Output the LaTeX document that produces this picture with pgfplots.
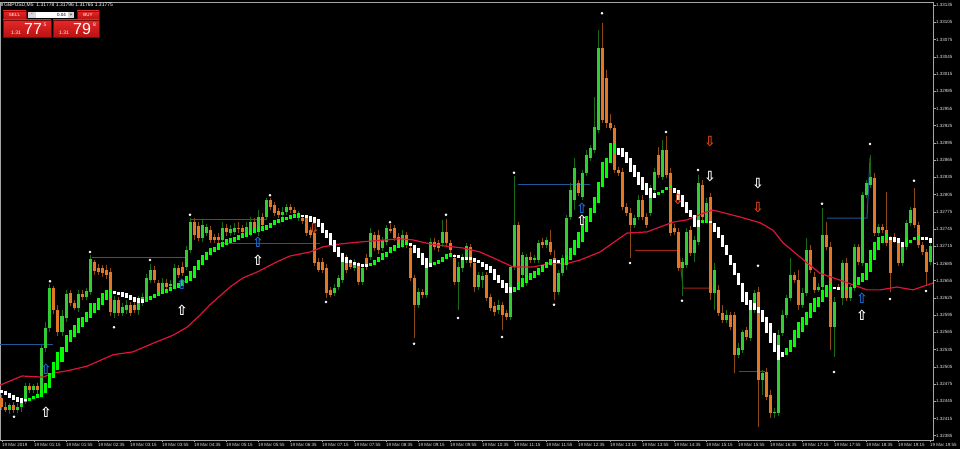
\documentclass[border=0pt]{standalone}
\usepackage{pgfplots}
\usepackage{pgfplotstable}
\pgfplotsset{compat=1.18}
\usepackage{fontspec}
\setmainfont{Liberation Sans}
\newfontfamily\dv{DejaVu Sans}
\definecolor{cgreen}{RGB}{50,205,50}
\definecolor{wickg}{RGB}{25,105,25}
\definecolor{corange}{RGB}{226,120,38}
\definecolor{wicko}{RGB}{140,72,22}
\definecolor{hagreen}{RGB}{0,255,0}
\definecolor{mared}{RGB}{220,20,60}
\definecolor{lblue}{RGB}{31,90,150}
\definecolor{ablue}{RGB}{30,110,210}
\definecolor{ared}{RGB}{220,70,20}
\definecolor{lred}{RGB}{160,40,24}
\definecolor{framec}{RGB}{165,165,165}
\definecolor{redA}{RGB}{228,40,40}
\definecolor{redB}{RGB}{185,18,18}
\definecolor{redC}{RGB}{120,10,10}
\definecolor{lgray}{RGB}{215,215,215}

\pgfplotstableread{
i o h l c
0 132451 132456 132430 132435
1 132435 132444 132426 132430
2 132430 132442 132423 132439
3 132439 132444 132425 132430
4 132430 132442 132425 132435
5 132435 132447 132426 132444
6 132444 132477 132440 132472
7 132472 132477 132459 132465
8 132465 132475 132459 132472
9 132472 132477 132458 132465
10 132465 132545 132458 132538
11 132538 132583 132531 132573
12 132573 132649 132566 132642
13 132642 132646 132597 132604
14 132604 132613 132559 132566
15 132566 132604 132559 132594
16 132590 132639 132583 132632
17 132634 132639 132611 132616
18 132616 132621 132604 132607
19 132607 132639 132600 132632
20 132632 132639 132621 132627
21 132627 132642 132621 132637
22 132635 132700 132630 132693
23 132688 132691 132665 132672
24 132677 132684 132665 132670
25 132677 132682 132662 132668
26 132674 132682 132658 132665
27 132670 132677 132594 132600
28 132599 132628 132590 132621
29 132621 132627 132594 132599
30 132599 132616 132594 132609
31 132604 132621 132597 132613
32 132613 132618 132594 132599
33 132613 132621 132599 132604
34 132604 132628 132595 132621
35 132618 132634 132611 132627
36 132627 132667 132621 132660
37 132656 132684 132651 132674
38 132674 132681 132651 132656
39 132651 132656 132628 132634
40 132639 132660 132632 132651
41 132651 132658 132639 132644
42 132646 132656 132641 132649
43 132648 132684 132642 132677
44 132677 132682 132660 132665
45 132679 132688 132663 132668
46 132679 132715 132674 132708
47 132708 132764 132703 132757
48 132757 132764 132726 132735
49 132750 132757 132724 132729
50 132729 132761 132722 132752
51 132738 132754 132733 132749
52 132743 132750 132721 132726
53 132731 132736 132721 132726
54 132731 132738 132719 132726
55 132726 132757 132721 132747
56 132747 132754 132733 132740
57 132738 132752 132733 132745
58 132740 132756 132735 132747
59 132747 132757 132738 132746
60 132747 132752 132733 132740
61 132740 132757 132735 132749
62 132740 132766 132733 132757
63 132757 132764 132740 132747
64 132743 132778 132733 132766
65 132766 132773 132747 132752
66 132766 132799 132761 132796
67 132796 132799 132778 132783
68 132787 132792 132768 132773
69 132776 132782 132764 132770
70 132770 132783 132764 132775
71 132775 132789 132770 132783
72 132783 132789 132773 132778
73 132778 132783 132768 132773
74 132764 132776 132759 132773
75 132764 132770 132754 132759
76 132764 132770 132733 132738
77 132743 132749 132729 132735
78 132738 132743 132681 132686
79 132688 132695 132670 132674
80 132688 132695 132668 132674
81 132677 132684 132625 132634
82 132639 132644 132627 132630
83 132634 132649 132628 132642
84 132644 132665 132639 132660
85 132656 132700 132651 132695
86 132695 132700 132668 132674
87 132686 132693 132675 132679
88 132677 132693 132672 132688
89 132682 132688 132648 132653
90 132653 132682 132648 132677
91 132695 132702 132674 132679
92 132696 132747 132691 132738
93 132735 132740 132707 132712
94 132735 132743 132702 132708
95 132712 132731 132707 132726
96 132722 132752 132717 132747
97 132745 132754 132738 132742
98 132747 132752 132724 132729
99 132731 132738 132715 132721
100 132717 132743 132712 132735
101 132735 132740 132712 132717
102 132712 132717 132654 132660
103 132660 132665 132555 132613
104 132613 132642 132607 132635
105 132635 132641 132625 132630
106 132630 132688 132625 132679
107 132686 132729 132681 132722
108 132722 132729 132708 132714
109 132721 132726 132705 132712
110 132721 132761 132714 132740
111 132740 132762 132715 132721
112 132721 132726 132702 132708
113 132695 132702 132648 132653
114 132653 132688 132604 132679
115 132677 132702 132670 132696
116 132691 132721 132686 132715
117 132714 132719 132679 132686
118 132686 132691 132635 132644
119 132644 132670 132639 132665
120 132656 132670 132642 132663
121 132665 132670 132620 132625
122 132627 132632 132602 132607
123 132611 132618 132594 132600
124 132604 132621 132597 132613
125 132613 132618 132569 132595
126 132599 132604 132587 132592
127 132592 132682 132587 132679
128 132679 132837 132674 132752
129 132752 132757 132648 132653
130 132665 132705 132656 132700
131 132651 132702 132646 132696
132 132696 132705 132686 132691
133 132691 132700 132686 132695
134 132691 132726 132686 132721
135 132722 132729 132712 132717
136 132717 132731 132712 132726
137 132722 132743 132700 132705
138 132695 132708 132621 132635
139 132635 132674 132630 132668
140 132668 132700 132663 132695
141 132688 132770 132674 132764
142 132766 132825 132761 132813
143 132796 132869 132778 132851
144 132825 132830 132803 132808
145 132801 132848 132796 132843
146 132843 132883 132837 132874
147 132869 132891 132864 132886
148 132883 132975 132877 132923
149 132918 133092 132912 133060
150 133060 133104 132930 132935
151 133008 133022 132921 132930
152 132930 132945 132918 132921
153 132921 132926 132843 132848
154 132848 132853 132837 132843
155 132844 132851 132778 132783
156 132783 132790 132768 132773
157 132773 132782 132695 132752
158 132752 132770 132747 132764
159 132766 132804 132761 132796
160 132796 132804 132761 132766
161 132766 132773 132747 132752
162 132773 132822 132768 132813
163 132813 132851 132808 132844
164 132874 132888 132834 132839
165 132836 132900 132830 132883
166 132883 132907 132834 132839
167 132843 132851 132733 132738
168 132747 132754 132735 132740
169 132740 132747 132672 132677
170 132677 132695 132628 132688
171 132682 132747 132677 132740
172 132743 132750 132698 132703
173 132703 132733 132688 132726
174 132722 132839 132717 132825
175 132822 132830 132761 132766
176 132761 132799 132756 132790
177 132801 132808 132621 132634
178 132634 132686 132604 132674
179 132639 132648 132594 132599
180 132599 132613 132581 132587
181 132587 132604 132581 132595
182 132595 132600 132569 132574
183 132595 132600 132494 132526
184 132526 132546 132520 132538
185 132534 132569 132529 132566
186 132569 132574 132552 132557
187 132555 132613 132550 132604
188 132604 132639 132599 132634
189 132635 132644 132400 132482
190 132482 132500 132456 132494
191 132496 132503 132447 132452
192 132456 132465 132416 132425
193 132426 132433 132416 132427
194 132425 132569 132419 132560
195 132564 132604 132559 132595
196 132595 132630 132590 132625
197 132625 132695 132620 132665
198 132665 132670 132651 132656
199 132656 132674 132604 132613
200 132613 132642 132607 132634
201 132634 132729 132628 132708
202 132708 132717 132668 132674
203 132662 132670 132634 132639
204 132639 132651 132635 132644
205 132644 132782 132639 132735
206 132735 132757 132708 132714
207 132714 132722 132534 132574
208 132574 132627 132522 132618
209 132644 132649 132639 132643
210 132625 132691 132613 132686
211 132686 132695 132620 132625
212 132625 132648 132620 132642
213 132642 132719 132637 132714
214 132714 132719 132682 132688
215 132686 132810 132681 132804
216 132804 132830 132799 132825
217 132822 132874 132816 132836
218 132834 132843 132733 132738
219 132738 132754 132733 132749
220 132749 132754 132738 132743
221 132743 132810 132715 132721
222 132726 132733 132635 132668
223 132731 132738 132721 132726
224 132722 132729 132681 132686
225 132686 132719 132681 132714
226 132714 132761 132708 132756
227 132756 132783 132750 132778
228 132782 132816 132747 132752
229 132752 132757 132712 132717
230 132717 132722 132700 132705
231 132705 132710 132648 132670
232 132688 132721 132682 132715
}\candles

\pgfplotstableread{
i lo hi g
0 132459 132465 0
1 132456 132463 0
2 132451 132459 0
3 132447 132456 0
4 132444 132452 0
5 132442 132451 0
6 132445 132449 0
7 132445 132451 1
8 132449 132454 1
9 132451 132458 1
10 132452 132465 1
11 132459 132477 1
12 132468 132494 1
13 132486 132513 1
14 132500 132531 1
15 132513 132539 1
16 132531 132560 1
17 132548 132569 1
18 132557 132578 1
19 132564 132590 1
20 132574 132592 1
21 132583 132601 1
22 132590 132616 1
23 132599 132616 1
24 132604 132625 1
25 132613 132634 1
26 132621 132639 1
27 132625 132639 1
28 132632 132637 0
29 132630 132635 0
30 132627 132635 0
31 132625 132634 0
32 132621 132630 0
33 132618 132627 0
34 132616 132625 0
35 132616 132623 0
36 132618 132627 1
37 132621 132628 1
38 132625 132632 1
39 132628 132635 1
40 132632 132639 1
41 132634 132641 1
42 132637 132644 1
43 132641 132648 1
44 132642 132651 1
45 132646 132656 1
46 132651 132663 1
47 132654 132672 1
48 132660 132681 1
49 132674 132691 1
50 132682 132700 1
51 132691 132705 1
52 132700 132712 1
53 132705 132714 1
54 132708 132721 1
55 132714 132722 1
56 132717 132728 1
57 132721 132729 1
58 132722 132731 1
59 132726 132735 1
60 132729 132738 1
61 132731 132740 1
62 132735 132743 1
63 132738 132747 1
64 132740 132749 1
65 132742 132750 1
66 132743 132752 1
67 132747 132756 1
68 132752 132761 1
69 132756 132762 1
70 132757 132766 1
71 132761 132766 1
72 132762 132770 1
73 132764 132771 1
74 132766 132773 1
75 132766 132770 0
76 132764 132770 0
77 132757 132768 0
78 132756 132766 0
79 132749 132762 0
80 132738 132756 0
81 132729 132743 0
82 132717 132738 0
83 132705 132726 0
84 132696 132714 0
85 132688 132703 0
86 132686 132696 0
87 132686 132691 0
88 132682 132688 0
89 132681 132686 0
90 132679 132684 0
91 132679 132684 0
92 132681 132686 1
93 132682 132691 1
94 132688 132696 1
95 132691 132703 1
96 132696 132705 1
97 132703 132714 1
98 132707 132717 1
99 132712 132721 1
100 132714 132721 1
101 132717 132722 1
102 132715 132721 0
103 132703 132717 0
104 132695 132712 0
105 132682 132703 0
106 132677 132695 0
107 132679 132686 0
108 132682 132688 1
109 132684 132691 1
110 132688 132696 1
111 132693 132702 1
112 132696 132703 1
113 132696 132700 0
114 132695 132700 0
115 132691 132696 0
116 132691 132696 0
117 132691 132696 0
118 132688 132695 0
119 132686 132691 0
120 132679 132688 0
121 132674 132684 0
122 132668 132681 0
123 132656 132675 0
124 132651 132665 0
125 132642 132656 0
126 132634 132651 0
127 132634 132644 0
128 132635 132644 1
129 132639 132653 1
130 132644 132660 1
131 132651 132665 1
132 132656 132668 1
133 132660 132672 1
134 132665 132677 1
135 132670 132682 1
136 132677 132688 1
137 132682 132693 1
138 132686 132691 0
139 132686 132691 0
140 132682 132695 1
141 132682 132700 1
142 132691 132712 1
143 132700 132726 1
144 132712 132740 1
145 132722 132754 1
146 132740 132768 1
147 132757 132782 1
148 132773 132801 1
149 132790 132827 1
150 132818 132862 1
151 132834 132869 1
152 132860 132895 1
153 132877 132895 1
154 132874 132886 0
155 132870 132886 0
156 132860 132879 0
157 132844 132869 0
158 132836 132857 0
159 132822 132844 0
160 132813 132836 0
161 132804 132825 0
162 132799 132816 0
163 132799 132808 0
164 132804 132810 1
165 132808 132813 1
166 132813 132818 1
167 132816 132822 1
168 132808 132816 0
169 132796 132813 0
170 132783 132804 0
171 132773 132792 0
172 132766 132778 0
173 132749 132770 0
174 132749 132761 0
175 132756 132761 1
176 132756 132761 1
177 132756 132759 0
178 132740 132756 0
179 132729 132749 0
180 132714 132735 0
181 132700 132717 0
182 132682 132700 0
183 132665 132686 0
184 132648 132668 0
185 132618 132651 0
186 132613 132635 0
187 132604 132621 0
188 132604 132616 0
189 132599 132609 0
190 132583 132604 0
191 132564 132592 0
192 132546 132581 0
193 132531 132564 0
194 132517 132543 0
195 132522 132531 0
196 132526 132538 1
197 132531 132552 1
198 132539 132569 1
199 132555 132583 1
200 132566 132592 1
201 132578 132601 1
202 132590 132616 1
203 132601 132625 1
204 132609 132627 1
205 132618 132639 1
206 132627 132648 1
207 132635 132651 1
208 132641 132644 0
209 132639 132644 0
210 132639 132644 1
211 132639 132644 1
212 132639 132644 1
213 132642 132653 1
214 132648 132662 1
215 132653 132668 1
216 132656 132686 1
217 132670 132708 1
218 132691 132722 1
219 132708 132731 1
220 132721 132733 1
221 132726 132736 1
222 132726 132731 0
223 132722 132731 0
224 132721 132729 0
225 132714 132722 0
226 132717 132729 1
227 132721 132726 1
228 132726 132731 1
229 132726 132735 1
230 132726 132731 0
231 132726 132731 0
232 132721 132729 0
}\hasq

\begin{document}
\begin{tikzpicture}
\useasboundingbox (0pt,-9pt) rectangle (960pt,440pt);
\fill[black] (0pt,-9pt) rectangle (960pt,440pt);
\begin{axis}[
  at={(0pt,0pt)}, anchor=south west,
  scale only axis, width=933pt, height=438pt,
  xmin=-0.5, xmax=232.75, ymin=132377.5, ymax=133140.5,
  axis line style={framec, line width=0.8pt},
  tick style={framec, line width=0.6pt},
  tick align=outside, major tick length=2.5pt,
  xtick pos=bottom, ytick pos=right, yticklabel pos=right,
  xtick={0,8,...,232},
  xticklabels={19 Mar 2019, 19 Mar 01:15, 19 Mar 01:55, 19 Mar 02:35, 19 Mar 03:15, 19 Mar 03:55, 19 Mar 04:35, 19 Mar 05:15, 19 Mar 05:55, 19 Mar 06:35, 19 Mar 07:15, 19 Mar 07:55, 19 Mar 08:35, 19 Mar 09:15, 19 Mar 09:55, 19 Mar 10:35, 19 Mar 11:15, 19 Mar 11:55, 19 Mar 12:35, 19 Mar 13:15, 19 Mar 13:55, 19 Mar 14:35, 19 Mar 15:15, 19 Mar 15:55, 19 Mar 16:35, 19 Mar 17:15, 19 Mar 17:55, 19 Mar 18:35, 19 Mar 19:15, 19 Mar 19:55},
  xticklabel style={anchor=north west, inner sep=0pt, yshift=-0.5pt, font=\fontsize{4.5}{5}\selectfont, text=white!88!black},
  ytick={132385,132415,132445,132475,132505,132535,132565,132595,132625,132655,132685,132715,132745,132775,132805,132835,132865,132895,132925,132955,132985,133015,133045,133075,133105,133135},
  yticklabels={1.32385,1.32415,1.32445,1.32475,1.32505,1.32535,1.32565,1.32595,1.32625,1.32655,1.32685,1.32715,1.32745,1.32775,1.32805,1.32835,1.32865,1.32895,1.32925,1.32955,1.32985,1.33015,1.33045,1.33075,1.33105,1.33135},
  yticklabel style={anchor=west, inner sep=0pt, xshift=0.5pt, font=\fontsize{4.5}{5}\selectfont, text=white!88!black},
]
% support / resistance lines
\addplot[forget plot, lblue, line width=1pt] coordinates {(-0.5,132543) (12.75,132543)};
\addplot[forget plot, lblue, line width=1pt] coordinates {(22.5,132695) (45.75,132695)};
\addplot[forget plot, lblue, line width=1pt] coordinates {(47,132762) (66.25,132762)};
\addplot[forget plot, lblue, line width=1pt] coordinates {(129,132823) (147,132823)};
\addplot[forget plot, lblue, line width=1pt] coordinates {(206.25,132764) (216.25,132764) (217,132869)};
\addplot[forget plot, lred, line width=1pt] coordinates {(54,132719) (79.5,132719)};
\addplot[forget plot, lred, line width=1pt] coordinates {(158.25,132708) (169.25,132708) (170.25,132642) (177.5,132642)};
\addplot[forget plot, lred, line width=1pt] coordinates {(184.25,132496) (190.75,132496)};
% wicks
\addplot[forget plot, draw=none, mark=none, restrict expr to domain={\thisrow{c}-\thisrow{o}}{0:5000},
  error bars/.cd, y dir=plus, y explicit, error mark=none, error bar style={draw=wickg, line width=1pt}]
  table[x=i, y=l, y error expr=\thisrow{h}-\thisrow{l}] {\candles};
\addplot[forget plot, draw=none, mark=none, restrict expr to domain={\thisrow{o}-\thisrow{c}}{0.5:5000},
  error bars/.cd, y dir=plus, y explicit, error mark=none, error bar style={draw=wicko, line width=1pt}]
  table[x=i, y=l, y error expr=\thisrow{h}-\thisrow{l}] {\candles};
% bodies
\addplot[forget plot, draw=none, mark=none, restrict expr to domain={\thisrow{c}-\thisrow{o}}{0:5000},
  error bars/.cd, y dir=plus, y explicit, error mark=none, error bar style={draw=cgreen, line width=3pt}]
  table[x=i, y=o, y error expr=\thisrow{c}-\thisrow{o}] {\candles};
\addplot[forget plot, draw=none, mark=none, restrict expr to domain={\thisrow{o}-\thisrow{c}}{0.5:5000},
  error bars/.cd, y dir=plus, y explicit, error mark=none, error bar style={draw=corange, line width=3pt}]
  table[x=i, y=c, y error expr=\thisrow{o}-\thisrow{c}] {\candles};
% moving average
\addplot[forget plot, mared, line width=1.2pt] coordinates {
(-0.5,132473) (5,132489) (10.25,132487) (12.75,132494) (16.25,132498) (21.25,132506) (27.75,132526) (32.75,132531) (37.75,132546) (42.75,132560) (46.25,132574) (49.5,132595) (52,132613) (57,132644) (60.25,132660) (63.75,132670) (68.75,132688) (72,132698) (77,132705) (80.25,132714) (84.5,132719) (88.75,132722) (95.75,132726) (99.5,132728) (102.75,132726) (107,132719) (111.25,132715) (115.25,132712) (119.5,132705) (122.75,132695) (127.75,132679) (132.75,132679) (137.75,132686) (140.75,132684) (144.5,132691) (149.5,132705) (156.25,132738) (161.25,132740) (167.75,132757) (171.25,132761) (176.25,132775) (177.75,132778) (184.5,132766) (189.5,132756) (192.75,132743) (195.25,132721) (201.25,132686) (204.5,132668) (209.5,132656) (216.25,132639) (219.5,132639) (223.75,132644) (227.75,132639) (232.75,132651)};
% smoothed squares
\addplot[forget plot, draw=none, mark=none, restrict expr to domain={\thisrow{g}}{0.5:1.5},
  error bars/.cd, y dir=plus, y explicit, error mark=none, error bar style={draw=hagreen, line width=3pt}]
  table[x=i, y=lo, y error expr=\thisrow{hi}-\thisrow{lo}] {\hasq};
\addplot[forget plot, draw=none, mark=none, restrict expr to domain={\thisrow{g}}{-0.5:0.5},
  error bars/.cd, y dir=plus, y explicit, error mark=none, error bar style={draw=white, line width=3pt}]
  table[x=i, y=lo, y error expr=\thisrow{hi}-\thisrow{lo}] {\hasq};
% fractals
\addplot[forget plot, only marks, mark=*, mark size=1.1pt, white] coordinates {
(3,132418) (12,132654) (22,132705) (28,132574) (37,132691) (47,132770) (67,132804) (81,132618) (97,132757) (103,132545) (111,132770) (114,132590) (125,132557) (128,132843) (138,132613) (150,133121) (157,132686) (166,132914) (170,132620) (174,132848) (189,132681) (205,132789) (208,132496) (217,132893) (222,132623) (228,132829) (231,132637)};
% arrows
\addplot[forget plot, draw=none, mark=none, nodes near coords={⇧},
  every node near coord/.append style={anchor=center, inner sep=0pt, text=white, font=\dv\bfseries\fontsize{14}{14}\selectfont}]
  coordinates {(11,132426) (45,132604) (64,132691) (145,132761) (215,132594)};
\addplot[forget plot, draw=none, mark=none, nodes near coords={⇧},
  every node near coord/.append style={anchor=center, inner sep=0pt, text=ablue, font=\dv\bfseries\fontsize{14}{14}\selectfont}]
  coordinates {(11,132500) (45,132648) (64,132722) (145,132782) (215,132625)};
\addplot[forget plot, draw=none, mark=none, nodes near coords={⇩},
  every node near coord/.append style={anchor=center, inner sep=0pt, text=white, font=\dv\bfseries\fontsize{14}{14}\selectfont}]
  coordinates {(177,132836) (189,132825)};
\addplot[forget plot, draw=none, mark=none, nodes near coords={⇩},
  every node near coord/.append style={anchor=center, inner sep=0pt, text=ared, font=\dv\bfseries\fontsize{14}{14}\selectfont}]
  coordinates {(177,132898) (189,132782) (78,132745) (169,132796)};
\end{axis}
% trading panel
\fill[gray] (1pt,433.5pt) rectangle (3pt,436.5pt);
\node[anchor=west, inner sep=0pt, text=white, font=\fontsize{5}{6}\selectfont] at (4pt,435pt) {GBPUSD,M5\ \ 1.31778 1.31796 1.31765 1.31775};
\shade[top color=redA, bottom color=redB, draw=redC, line width=0.4pt] (3pt,429pt) rectangle (26pt,421pt);
\node[text=white, inner sep=0pt, font=\fontsize{4.5}{5}\selectfont] at (14.5pt,425pt) {SELL};
\fill[lgray] (28pt,428pt) rectangle (36pt,422pt);
\node[text=black, inner sep=0pt, font=\fontsize{5}{5}\selectfont] at (32pt,425pt) {-};
\fill[white] (36pt,428pt) rectangle (68pt,422pt);
\node[anchor=east, text=black, inner sep=0pt, font=\fontsize{4.5}{5}\selectfont] at (66pt,425pt) {0.04};
\fill[lgray] (68pt,428pt) rectangle (74pt,422pt);
\node[text=black, inner sep=0pt, font=\fontsize{5}{5}\selectfont] at (71pt,425pt) {+};
\shade[top color=redA, bottom color=redB, draw=redC, line width=0.4pt] (77pt,429pt) rectangle (99pt,421pt);
\node[text=white, inner sep=0pt, font=\fontsize{4.5}{5}\selectfont] at (88pt,425pt) {BUY};
\shade[top color=redA, bottom color=redB, draw=redC, line width=0.4pt] (3pt,420pt) rectangle (51pt,403pt);
\shade[top color=redA, bottom color=redB, draw=redC, line width=0.4pt] (53pt,420pt) rectangle (99pt,403pt);
\node[anchor=base west, text=white, inner sep=0pt, font=\fontsize{5}{5}\selectfont] at (11pt,405pt) {1.31};
\node[anchor=base west, text=white, inner sep=0pt, font=\fontsize{16}{16}\selectfont] at (24pt,405pt) {77};
\node[anchor=base west, text=white, inner sep=0pt, font=\fontsize{5}{5}\selectfont] at (43.5pt,413pt) {5};
\node[anchor=base west, text=white, inner sep=0pt, font=\fontsize{5}{5}\selectfont] at (59pt,405pt) {1.31};
\node[anchor=base west, text=white, inner sep=0pt, font=\fontsize{16}{16}\selectfont] at (73pt,405pt) {79};
\node[anchor=base west, text=white, inner sep=0pt, font=\fontsize{5}{5}\selectfont] at (93pt,413pt) {8};
\end{tikzpicture}
\end{document}
